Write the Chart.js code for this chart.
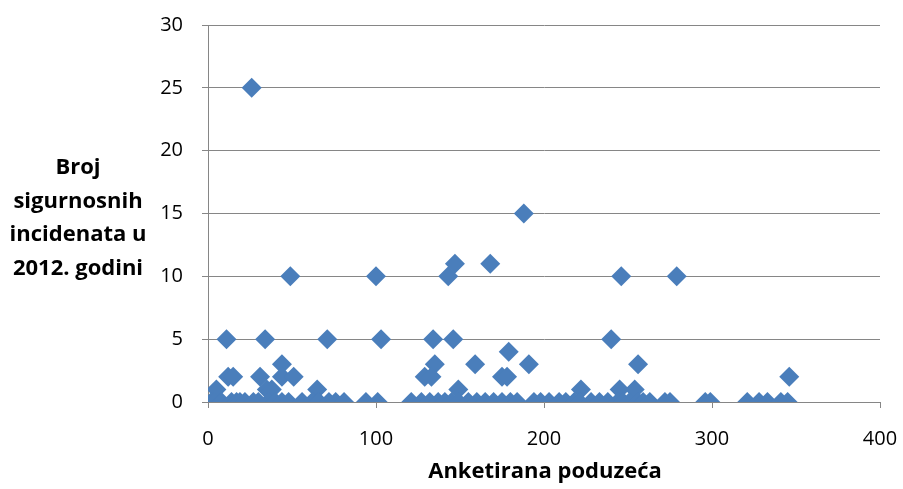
<!DOCTYPE html>
<html>
<head>
<meta charset="utf-8">
<script src="https://cdn.jsdelivr.net/npm/chart.js@4/dist/chart.umd.min.js"></script>
<style>
  html, body { margin: 0; padding: 0; background: #fff; }
  #wrap { width: 903px; height: 489px; position: relative; }
</style>
</head>
<body>
<div id="wrap"><canvas id="graf" width="903" height="489"></canvas></div>
<script>
// anketirana poduzeca (x) i broj incidenata (y), parovi po indeksu
const poduzeca = [
  26, 188, 147, 168, 49, 100, 143, 246, 279,
  11, 34, 71, 103, 134, 146, 240,
  179,
  44, 135, 159, 191, 256,
  12, 15, 31, 44, 51, 129, 133, 175, 178, 346,
  5, 35, 38, 65, 149, 222, 245, 254,
  2, 4, 8, 14, 17, 19, 22, 27, 30, 36, 40, 44, 48, 56, 62, 66, 72, 76, 81,
  94, 101, 121, 127, 132,
  137, 141, 145, 149, 155, 160, 165, 170, 175, 180, 184, 194, 198, 203, 209,
  213, 218, 221, 228, 233, 238, 244, 247, 251, 256, 259, 263,
  272, 275, 296, 299, 321, 328, 333, 341, 345
];
const incidenti = [
  25, 15, 11, 11, 10, 10, 10, 10, 10,
  5, 5, 5, 5, 5, 5, 5,
  4,
  3, 3, 3, 3, 3,
  2, 2, 2, 2, 2, 2, 2, 2, 2, 2,
  1, 1, 1, 1, 1, 1, 1, 1,
  0, 0, 0, 0, 0, 0, 0, 0, 0, 0, 0, 0, 0, 0, 0, 0, 0, 0, 0,
  0, 0, 0, 0, 0,
  0, 0, 0, 0, 0, 0, 0, 0, 0, 0, 0, 0, 0, 0, 0,
  0, 0, 0, 0, 0, 0, 0, 0, 0, 0, 0, 0,
  0, 0, 0, 0, 0, 0, 0, 0, 0
];
const xOsa = { min: 0, max: 400, korak: 100 };
const yOsa = { min: 0, max: 30, korak: 5 };
const naslovY = ['Broj', 'sigurnosnih', 'incidenata u', '2012. godini'];
const naslovX = 'Anketirana poduzeća';

const tacke = poduzeca.map((x, i) => ({ x, y: incidenti[i] }));

const naslovi = {
  id: 'naslovi',
  afterDraw(chart) {
    const ctx = chart.ctx;
    ctx.save();
    ctx.fillStyle = '#000';
    ctx.font = 'bold 22px "Open Sans"';
    ctx.textAlign = 'center';
    ctx.textBaseline = 'middle';
    naslovY.forEach((red, i) => ctx.fillText(red, 78, 168 + i * 33.5));
    ctx.fillText(naslovX, 545, 472);
    ctx.restore();
  }
};

new Chart(document.getElementById('graf'), {
  type: 'scatter',
  data: {
    datasets: [{
      data: tacke,
      pointStyle: 'rectRot',
      pointRadius: 10,
      pointHoverRadius: 10,
      backgroundColor: '#4A7EBB',
      borderColor: '#4A7EBB',
      borderWidth: 0
    }]
  },
  options: {
    responsive: false,
    animation: false,
    layout: { padding: { top: 25, right: 23, left: 0, bottom: 0 } },
    plugins: { legend: { display: false }, tooltip: { enabled: false } },
    scales: {
      x: {
        type: 'linear',
        min: xOsa.min,
        max: xOsa.max,
        afterFit: (s) => { s.height = 87; s.paddingLeft = 0; s.paddingRight = 0; },
        ticks: { stepSize: xOsa.korak, color: '#000', font: { family: 'Open Sans', size: 20 }, padding: 19 },
        grid: { drawOnChartArea: false, drawTicks: true, tickLength: 6, color: '#868686' },
        border: { color: '#868686', width: 1 }
      },
      y: {
        min: yOsa.min,
        max: yOsa.max,
        afterFit: (s) => { s.width = 208; s.paddingTop = 0; s.paddingBottom = 0; },
        ticks: { stepSize: yOsa.korak, color: '#000', font: { family: 'Open Sans', size: 20 }, padding: 19 },
        grid: { color: '#868686', tickLength: 6, lineWidth: 1 },
        border: { color: '#868686', width: 1 }
      }
    }
  },
  plugins: [naslovi]
});
</script>
</body>
</html>
